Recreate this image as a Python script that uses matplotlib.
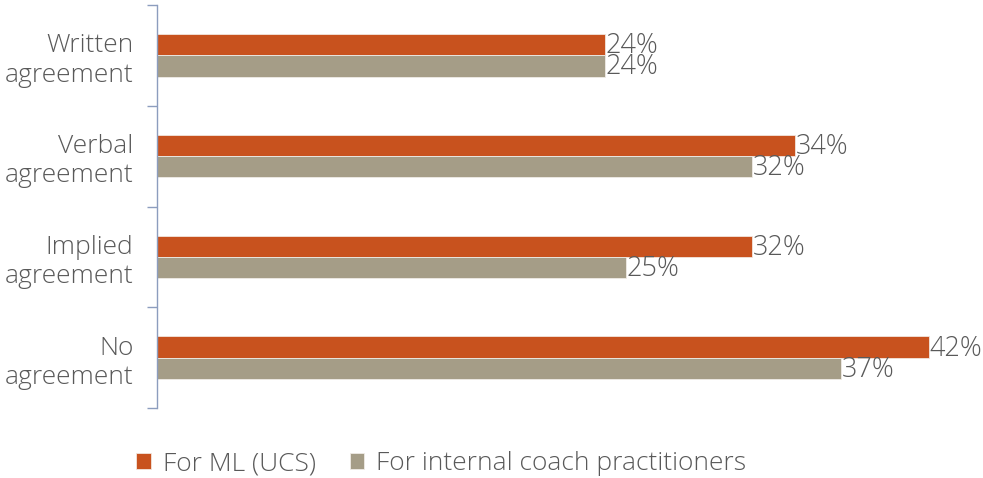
import matplotlib
matplotlib.use("Agg")
import matplotlib.pyplot as plt
import numpy as np

categories = ["Written\nagreement", "Verbal\nagreement", "Implied\nagreement", "No\nagreement"]
series_names = ["For ML (UCS)", "For internal coach practitioners"]
ml_values = [24.1, 34.3, 32.0, 41.5]
internal_values = [24.1, 32.0, 25.2, 36.8]
ml_labels = ["24%", "34%", "32%", "42%"]
internal_labels = ["24%", "32%", "25%", "37%"]

colors = ["#C8521E", "#A59D87"]
text_color = "#595959"
axis_color = "#8C9DBE"

plt.rcParams['font.family'] = ['Open Sans', 'DejaVu Sans']

W, H = 983, 478
fig = plt.figure(figsize=(W / 100, H / 100), dpi=100)
ppu = 18.6
xmax = 44
ax = fig.add_axes([157 / W, (H - 408) / H, ppu * xmax / W, 403 / H])

y = np.arange(len(categories))
bh = 0.21
b1 = ax.barh(y - bh / 2, ml_values, height=bh, color=colors[0], edgecolor="#F2E6DE", linewidth=0.6, label=series_names[0])
b2 = ax.barh(y + bh / 2, internal_values, height=bh, color=colors[1], edgecolor="#EFECE6", linewidth=0.6, label=series_names[1])

for bars, labs in ((b1, ml_labels), (b2, internal_labels)):
    for rect, lab in zip(bars, labs):
        ax.text(rect.get_width() + 0.02, rect.get_y() + rect.get_height() / 2 + 0.015, lab,
                ha="left", va="center", fontsize=19.5, color=text_color,
                fontweight="light", clip_on=False)

ax.set_xlim(0, xmax)
ax.set_ylim(len(categories) - 0.5, -0.5)
ax.set_xticks([])
ax.set_yticks(np.arange(-0.5, len(categories), 1.0))
ax.set_yticklabels([])
ax.set_yticks(y, minor=True)
ax.set_yticklabels(categories, minor=True, fontsize=19, color=text_color, fontweight="light", linespacing=1.22)
ax.tick_params(axis="y", which="major", length=7, color=axis_color, width=1)
ax.tick_params(axis="y", which="minor", length=0, pad=17)
for s in ["top", "right", "bottom"]:
    ax.spines[s].set_visible(False)
ax.spines["left"].set_color(axis_color)
ax.spines["left"].set_linewidth(1)

leg = fig.legend(handles=[b1, b2], labels=series_names, loc="center", bbox_to_anchor=(0.449, 1 - 464 / H),
                 ncol=2, frameon=False, fontsize=19, handlelength=0.55, handleheight=0.55,
                 handletextpad=0.45, columnspacing=1.3)
for t in leg.get_texts():
    t.set_color(text_color)
    t.set_fontweight("light")

fig.savefig("out.png", dpi=100)
